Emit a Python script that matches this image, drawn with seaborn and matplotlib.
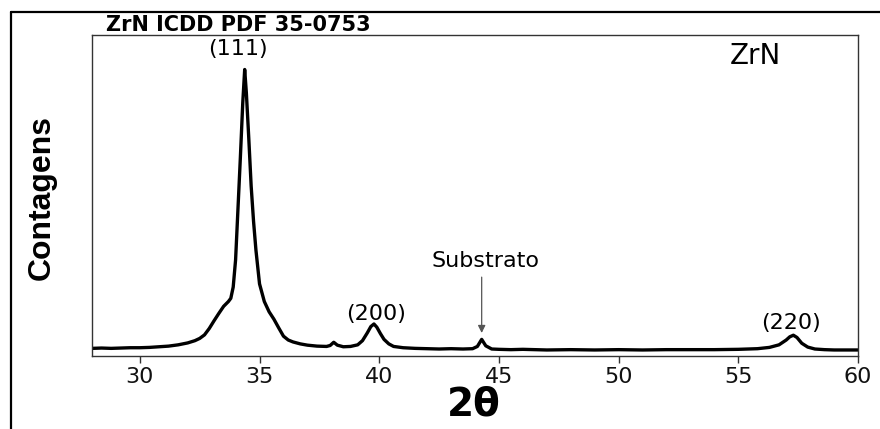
"""
XRD pattern of a ZrN film (2theta scan)
"""
import matplotlib
matplotlib.use("Agg")
import matplotlib.pyplot as plt
from matplotlib.lines import Line2D
import seaborn as sns

# scan: 2theta (deg) and counts (arbitrary units)
two_theta = [
    28.0, 28.4, 28.8, 29.2, 29.6, 30.0, 30.4, 30.8, 31.2, 31.6,
    32.0, 32.3, 32.5, 32.7, 32.9, 33.1, 33.3, 33.5, 33.7, 33.8,
    33.9, 34.0, 34.1, 34.2, 34.3, 34.38, 34.45, 34.55, 34.65, 34.75,
    34.85, 35.0, 35.2, 35.4, 35.6, 35.8, 36.0, 36.2, 36.4, 36.7,
    37.0, 37.4, 37.8, 37.95, 38.1, 38.25, 38.5, 38.8, 39.1, 39.3,
    39.5, 39.65, 39.78, 39.9, 40.05, 40.2, 40.4, 40.6, 41.0, 41.5,
    42.0, 42.5, 43.0, 43.5, 43.9, 44.1, 44.28, 44.45, 44.7, 45.0,
    45.5, 46.0, 47.0, 48.0, 49.0, 50.0, 51.0, 52.0, 53.0, 54.0,
    55.0, 55.8, 56.3, 56.7, 57.0, 57.15, 57.3, 57.45, 57.65, 57.9,
    58.2, 58.6, 59.0, 59.5, 60.0,
]
counts = [
    24, 25, 24, 25, 26, 26, 27, 29, 31, 35,
    41, 48, 55, 66, 86, 110, 133, 155, 170, 180,
    215, 300, 460, 620, 790, 893, 820, 680, 530, 420,
    330, 225, 170, 138, 115, 88, 62, 50, 44, 38,
    34, 31, 30, 33, 43, 34, 29, 30, 35, 48,
    72, 92, 100, 90, 70, 52, 38, 30, 26, 24,
    23, 22, 23, 22, 23, 30, 52, 32, 22, 21,
    20, 21, 19, 20, 19, 20, 19, 20, 20, 20,
    21, 23, 27, 35, 50, 60, 65, 58, 40, 28,
    22, 20, 19, 19, 19,
]

# peak labels: (text, 2theta, counts)
peak_labels = [
    ("(111)", 34.1, 958),
    ("(200)", 39.88, 131),
    ("(220)", 57.22, 104),
]
x_ticks = [30, 35, 40, 45, 50, 55, 60]

sns.set_style("ticks")
plt.rcParams["font.family"] = ["DejaVu Sans"]
plt.rcParams["text.color"] = "black"

fig = plt.figure(figsize=(8.8, 4.29), dpi=100)
ax = fig.add_axes([0.1045, 0.170, 0.8705, 0.748])

sns.lineplot(x=two_theta, y=counts, color="black", linewidth=2.4, ax=ax)

ax.set_xlim(28, 60)
ax.set_ylim(0, 1000)
ax.set_xticks(x_ticks)
ax.set_yticks([])
ax.tick_params(axis="x", direction="out", length=5, width=1, color="#333333",
               labelsize=16, pad=3, labelcolor="#111111")
for side in ["left", "right", "top", "bottom"]:
    ax.spines[side].set_visible(True)
    ax.spines[side].set_color("#333333")
    ax.spines[side].set_linewidth(1.0)

# peak labels
for label, px, py in peak_labels:
    ax.text(px, py, label, ha="center", va="center", fontsize=16, color="black")

ax.text(55.7, 935, "ZrN", ha="center", va="center", fontsize=20, color="black")

# substrate peak marker
ax.text(44.42, 296, "Substrato", ha="center", va="center", fontsize=16, color="black")
ax.annotate("", xy=(44.28, 72), xytext=(44.28, 246),
            arrowprops=dict(arrowstyle="-|>", color="#555555", lw=0.9,
                            mutation_scale=11, shrinkA=0, shrinkB=0,
                            facecolor="black"))

# axis titles placed in figure coords
fig.text(0.2705, 0.9417, "ZrN ICDD PDF 35-0753", ha="center", va="center",
         fontsize=15, fontweight="bold", color="black")
fig.text(0.0477, 0.5396, "Contagens", ha="center", va="center", rotation=90,
         fontsize=23, fontweight="bold", color="black",
         family=["Liberation Sans"])
fig.text(0.5386, 0.056, "2θ", ha="center", va="center",
         fontsize=28, fontweight="bold", color="black")

# outer frame lines (top and left)
fig.add_artist(Line2D([11 / 880, 1.0], [1 - 12 / 429, 1 - 12 / 429],
                      transform=fig.transFigure, color="black", lw=1.6))
fig.add_artist(Line2D([11 / 880, 11 / 880], [0.0, 1 - 12 / 429],
                      transform=fig.transFigure, color="black", lw=1.6))

fig.savefig("out.png", dpi=100)
